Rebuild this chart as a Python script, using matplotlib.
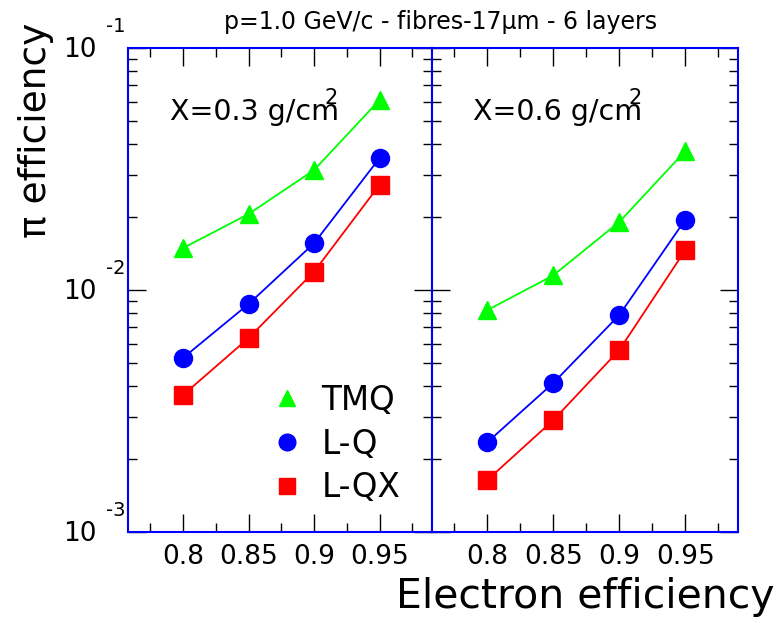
import numpy as np
import matplotlib.pyplot as plt
from matplotlib.lines import Line2D
from matplotlib.ticker import FixedLocator, LogLocator, NullFormatter
from matplotlib.transforms import offset_copy

# electron efficiency points
e_eff = [0.80, 0.85, 0.90, 0.95]

# pion efficiency, X = 0.3 g/cm2
tmq_03 = [1.49e-2, 2.06e-2, 3.13e-2, 6.1e-2]
lq_03 = [5.24e-3, 8.75e-3, 1.56e-2, 3.51e-2]
lqx_03 = [3.68e-3, 6.33e-3, 1.19e-2, 2.72e-2]

# pion efficiency, X = 0.6 g/cm2
tmq_06 = [8.26e-3, 1.15e-2, 1.91e-2, 3.75e-2]
lq_06 = [2.35e-3, 4.13e-3, 7.88e-3, 1.95e-2]
lqx_06 = [1.64e-3, 2.90e-3, 5.65e-3, 1.46e-2]

x_major = [0.8, 0.85, 0.9, 0.95]
x_minor = [0.775, 0.825, 0.875, 0.925, 0.975]
y_major = [1e-3, 1e-2, 1e-1]
y_exp = ['-3', '-2', '-1']

W, H = 778, 618
plt.rcParams['font.family'] = 'DejaVu Sans'

fig = plt.figure(figsize=(W / 100, H / 100), dpi=100)
ax1 = fig.add_axes([128 / W, 1 - 532 / H, 304 / W, 484 / H])
ax2 = fig.add_axes([432 / W, 1 - 532 / H, 306 / W, 484 / H], sharey=ax1)


def style_panel(ax):
    ax.set_yscale('log')
    ax.set_ylim(1e-3, 1e-1)
    ax.set_xlim(0.758, 0.99)
    for s in ax.spines.values():
        s.set_color('blue')
        s.set_linewidth(1.5)
    ax.xaxis.set_major_locator(FixedLocator(x_major))
    ax.xaxis.set_minor_locator(FixedLocator(x_minor))
    ax.yaxis.set_major_locator(FixedLocator(y_major))
    ax.yaxis.set_minor_locator(LogLocator(base=10, subs=np.arange(2, 10)))
    ax.yaxis.set_minor_formatter(NullFormatter())
    ax.set_xticklabels(['0.8', '0.85', '0.9', '0.95'])
    ax.tick_params(which='both', direction='in', top=True, right=True,
                   color='black', width=1.0)
    ax.tick_params(which='major', length=13, labelsize=19, pad=9)
    ax.tick_params(which='minor', length=6.5)
    ax.tick_params(axis='y', labelleft=False)


def plot_panel(ax, tmq, lq, lqx):
    ax.plot(e_eff, tmq, color='#00ff00', lw=1.3, marker='^', ms=13)
    ax.plot(e_eff, lq, color='#0000ff', lw=1.3, marker='o', ms=13)
    ax.plot(e_eff, lqx, color='#ff0000', lw=1.3, marker='s', ms=13)


style_panel(ax1)
style_panel(ax2)
plot_panel(ax1, tmq_03, lq_03, lqx_03)
plot_panel(ax2, tmq_06, lq_06, lqx_06)

# y tick labels in the 10 / exponent style
base = ax1.get_yaxis_transform()
t_ten = offset_copy(base, fig=fig, x=-31, y=-2, units='dots')
t_exp = offset_copy(base, fig=fig, x=-22, y=21, units='dots')
for v, e in zip(y_major, y_exp):
    ax1.text(0, v, '10', transform=t_ten, ha='right', va='center', fontsize=19)
    ax1.text(0, v, e, transform=t_exp, ha='left', va='center', fontsize=14)

# panel labels (superscript 2 sits over the m, as in the original)
fig.text(170 / W, 1 - 120 / H, 'X=0.3 g/cm', fontsize=20.5, va='baseline')
fig.text(325 / W, 1 - 104 / H, '2', fontsize=15, va='baseline')
fig.text(473 / W, 1 - 120 / H, 'X=0.6 g/cm', fontsize=20.5, va='baseline')
fig.text(628 / W, 1 - 104 / H, '2', fontsize=15, va='baseline')

# legend
handles = [
    Line2D([], [], ls='none', marker='^', color='#00ff00', ms=12),
    Line2D([], [], ls='none', marker='o', color='#0000ff', ms=12),
    Line2D([], [], ls='none', marker='s', color='#ff0000', ms=12),
]
ax1.legend(handles, ['TMQ', 'L-Q', 'L-QX'], loc='upper left',
           bbox_to_anchor=(248 / W, 1 - 361 / H), bbox_transform=fig.transFigure,
           frameon=False, fontsize=23.5, handlelength=1.0, handletextpad=0.55,
           labelspacing=0.33, borderpad=0.2)

fig.text(441 / W, 1 - 22 / H, 'p=1.0 GeV/c - fibres-17μm - 6 layers',
         fontsize=17, ha='center', va='center')
fig.text(775 / W, 1 - 608 / H, 'Electron efficiency', fontsize=29.5,
         ha='right', va='baseline')
fig.text(36 / W, 1 - 130 / H, 'π efficiency', fontsize=27, rotation=90,
         ha='center', va='center')

fig.savefig('out.png', dpi=100)
